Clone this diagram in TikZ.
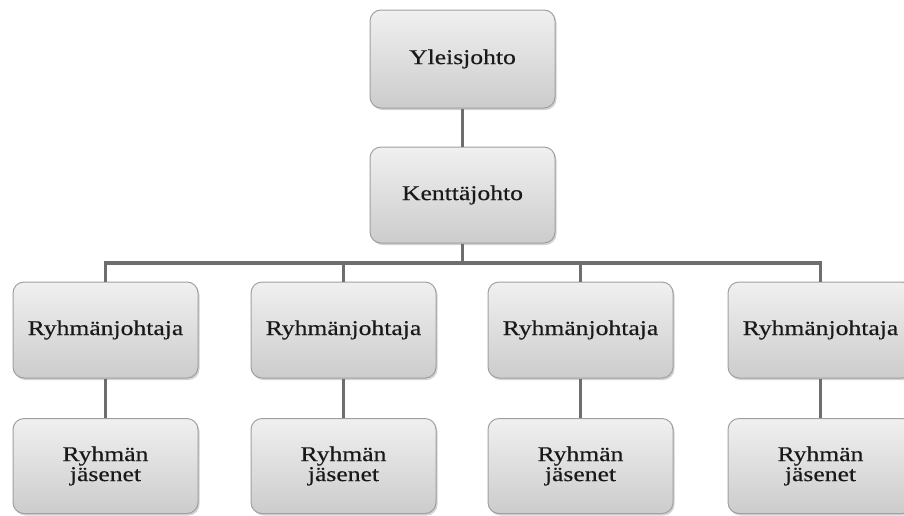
\documentclass[tikz,border=0pt]{standalone}
\usepackage{fontspec}
\newfontfamily\boxfont[FakeStretch=1.22,FakeBold=0.4]{Liberation Serif}
\usetikzlibrary{shadows}
\definecolor{boxtop}{HTML}{F0F0F0}
\definecolor{boxbot}{HTML}{CCCCCC}
\definecolor{boxline}{HTML}{A0A0A0}
\definecolor{conn}{HTML}{6E6E6E}
\tikzset{
  orgbox/.style={draw=boxline, line width=1pt, rounded corners=11pt,
    top color=boxtop, bottom color=boxbot, minimum width=185pt,
    minimum height=96pt, inner sep=0pt, align=center,
    font=\boxfont\fontsize{21}{20}\selectfont, text=black!90,
    drop shadow={shadow xshift=1.5pt, shadow yshift=-2pt, opacity=0.35, fill=black!50}},
  link/.style={draw=conn, line width=3.8pt}
}
\begin{document}
\begin{tikzpicture}[x=1pt,y=-1pt]
\useasboundingbox (0,0) rectangle (904,515);
\node[orgbox, minimum height=98pt] (top) at (462.5,59) {Yleisjohto};
\node[orgbox] (field) at (462.5,195) {Kenttäjohto};
\coordinate (bus) at (462.5,263);
\foreach \i/\x in {1/105.5,2/343.5,3/580.5,4/820.5}{
  \node[orgbox] (lead\i) at (\x,330) {Ryhmänjohtaja};
  \node[orgbox, minimum height=95pt] (mem\i) at (\x,466) {Ryhmän\\jäsenet};
}
\draw[link] (top) -- (field);
\draw[link] (field.south) -- (bus);
\draw[link] (lead1.north) |- (bus) -| (lead4.north);
\draw[link] (lead2.north) -- (lead2.north |- bus);
\draw[link] (lead3.north) -- (lead3.north |- bus);
\foreach \i in {1,2,3,4}{
  \draw[link] (lead\i) -- (mem\i);
}
\end{tikzpicture}
\end{document}
